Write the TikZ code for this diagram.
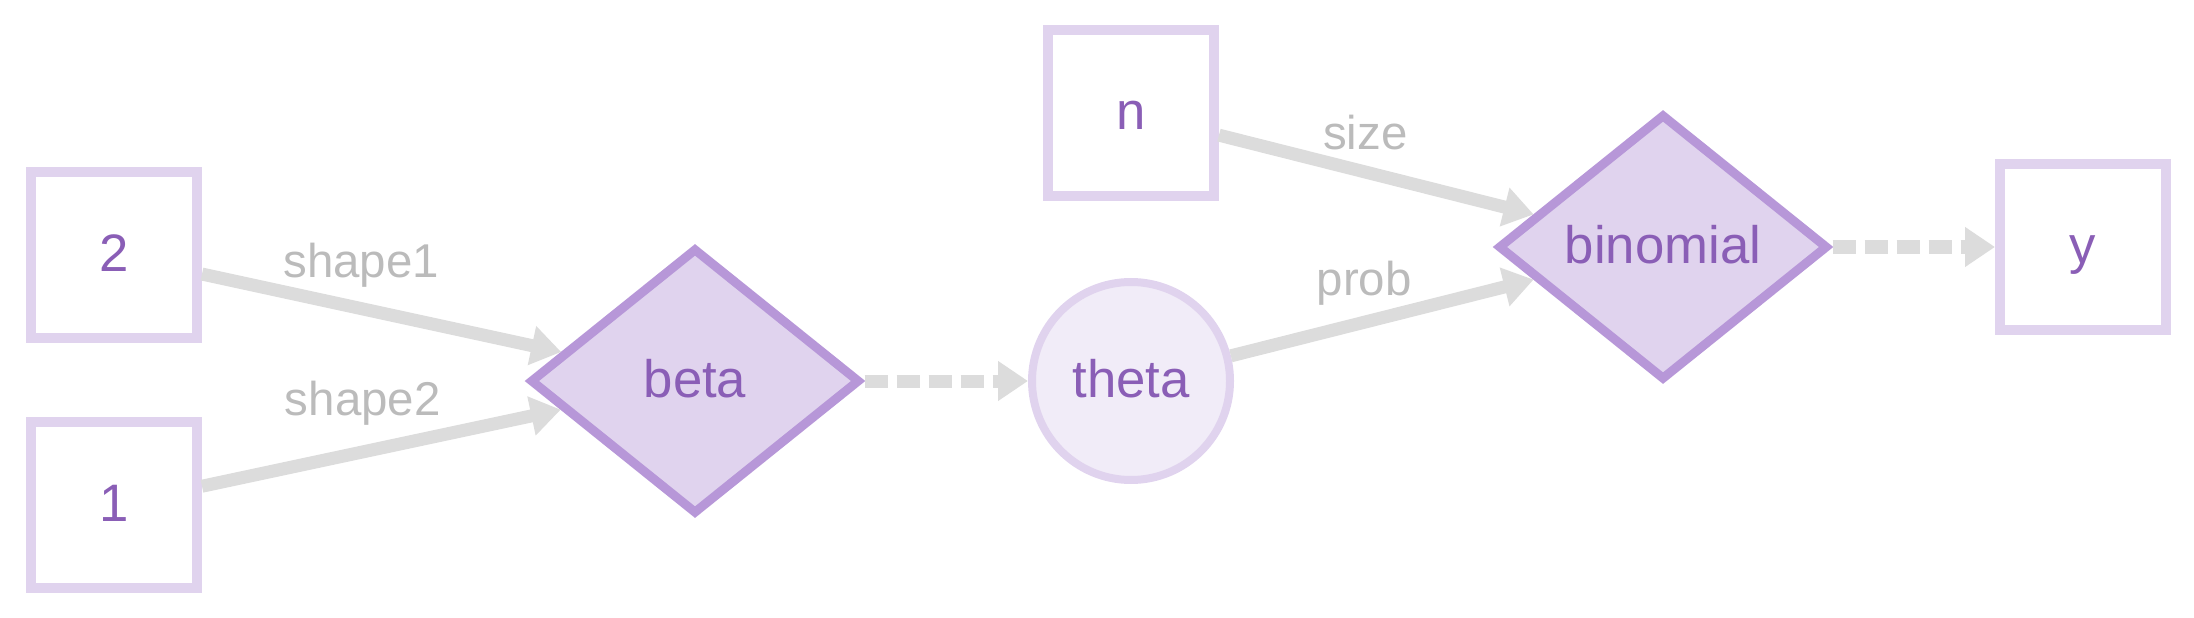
\documentclass[tikz,border=0pt]{standalone}
\usepackage{fontspec}
\setmainfont{Liberation Sans}
\usetikzlibrary{shapes.geometric,arrows.meta}
\definecolor{lavlight}{HTML}{E0D3EE}
\definecolor{lavmid}{HTML}{B797D8}
\definecolor{lavtext}{HTML}{8A5EB6}
\definecolor{lavpale}{HTML}{F1ECF8}
\definecolor{edgegrey}{HTML}{DCDCDC}
\definecolor{labelgrey}{HTML}{BBBBBB}
\tikzstyle{every node}=[font=\fontsize{15}{18}\selectfont,text=lavtext,text height=11pt,text depth=1.4pt]
\tikzstyle{databox}=[draw=lavlight,line width=0.1cm,fill=white,minimum size=1.66cm,inner sep=0pt]
\tikzstyle{opdiamond}=[diamond,draw=lavmid,fill=lavlight,line width=0.09cm,minimum width=3.3cm,minimum height=2.66cm,inner sep=0pt]
\tikzstyle{varcircle}=[circle,draw=lavlight,fill=lavpale,line width=0.08cm,minimum size=1.98cm,inner sep=0pt]
\tikzstyle{argedge}=[draw=edgegrey,line width=0.13cm,-{Triangle[length=0.3cm,width=0.38cm]}]
\tikzstyle{outedge}=[argedge,dash pattern=on 0.23cm off 0.09cm]
\tikzstyle{edgelabel}=[font=\fontsize{13.5}{16}\selectfont,text=labelgrey,inner sep=0pt,text height=10pt,text depth=3pt]

\begin{document}
\begin{tikzpicture}
% Beta-binomial model
	\newcommand\datacol{1.14} %x of the two data boxes
	\newcommand\midrow{-3.81} %row of beta and theta
	\newcommand\toprow{-2.47} %row of binomial and y
	\useasboundingbox (0,0) rectangle (21.94,-6.18);
	\node[databox] (two) at (\datacol,-2.55) {2};
	\node[databox] (one) at (\datacol,-5.05) {1};
	\node[opdiamond] (beta) at (6.95,\midrow) {beta};
	\node[varcircle] (theta) at (11.31,\midrow) {theta};
	\node[databox] (n) at (11.31,-1.13) {n};
	\node[opdiamond] (binomial) at (16.63,\toprow) {binomial};
	\node[databox] (y) at (20.83,\toprow) {y};
	\draw[argedge] (two) -- (beta) node[edgelabel,pos=0.443,yshift=0.43cm] (shapeone) {shape1}; %% first argument of beta
	\draw[argedge] (one) -- (beta) node[edgelabel,pos=0.448,yshift=0.49cm] (shapetwo) {shape2}; %% second argument of beta
	\draw[outedge] (beta) -- (theta);
	\draw[argedge] (n) -- (binomial) node[edgelabel,pos=0.465,yshift=0.35cm] (size) {size};
	\draw[argedge] (theta) -- (binomial) node[edgelabel,pos=0.44,yshift=0.39cm] (prob) {prob};
	\draw[outedge] (binomial) -- (y);
\end{tikzpicture}
\end{document}
